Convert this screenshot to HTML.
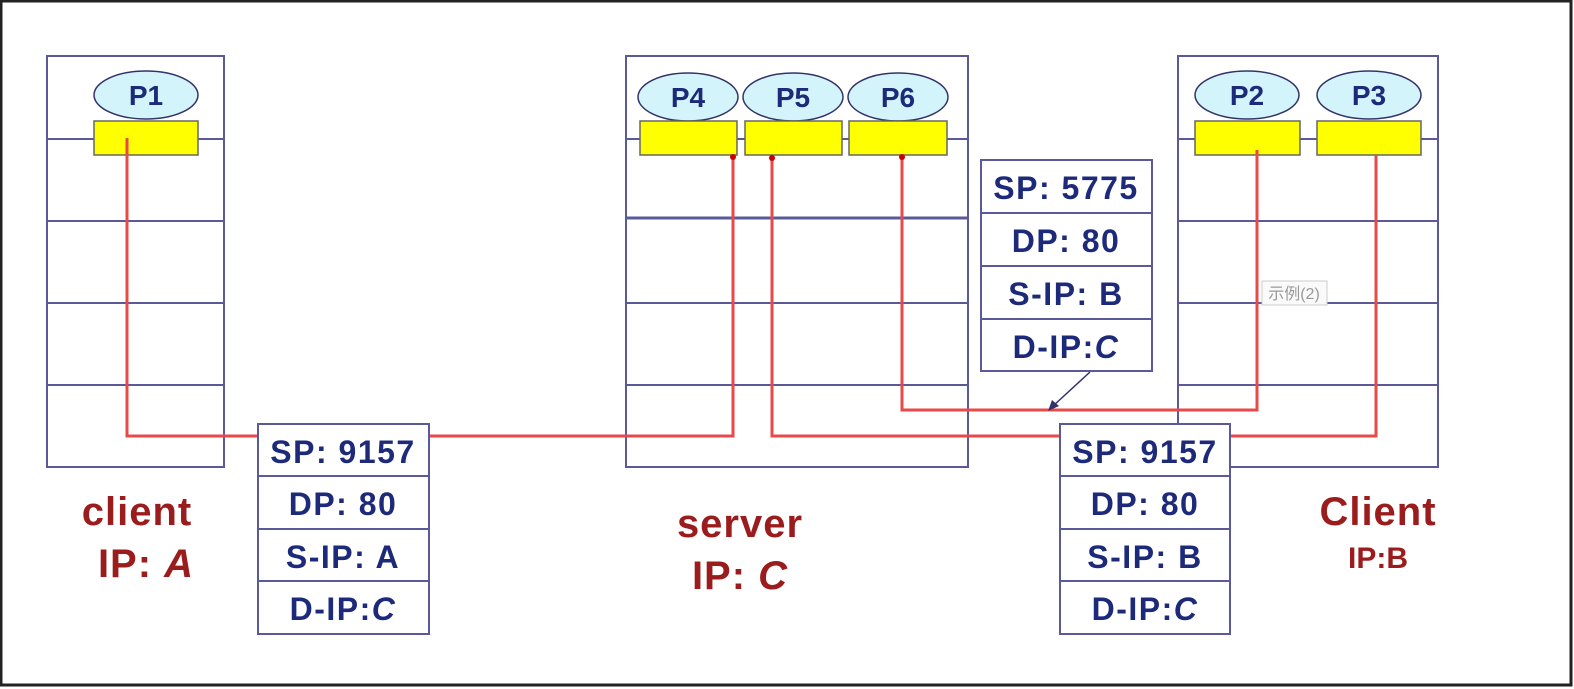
<!DOCTYPE html>
<html><head><meta charset="utf-8"><style>
html,body{margin:0;padding:0;background:#fff;}
svg{display:block;}
text{font-family:"Liberation Sans","Noto Sans CJK SC",sans-serif;}
</style></head><body>
<svg width="1574" height="689" viewBox="0 0 1574 689" xmlns="http://www.w3.org/2000/svg">
<rect x="0" y="0" width="1574" height="689" fill="#fff"/>
<rect x="1" y="1" width="1570" height="684" fill="none" stroke="#222" stroke-width="3"/>
<g stroke="#5a5a9a" stroke-width="2" fill="none">
<rect x="47" y="56" width="177" height="411"/>
<line x1="47" y1="139" x2="224" y2="139"/><line x1="47" y1="221" x2="224" y2="221"/>
<line x1="47" y1="303" x2="224" y2="303"/><line x1="47" y1="385" x2="224" y2="385"/>
<rect x="626" y="56" width="342" height="411"/>
<line x1="626" y1="139" x2="968" y2="139"/><line x1="626" y1="218" x2="968" y2="218" stroke-width="3"/>
<line x1="626" y1="303" x2="968" y2="303"/><line x1="626" y1="385" x2="968" y2="385"/>
<rect x="1178" y="56" width="260" height="411"/>
<line x1="1178" y1="139" x2="1438" y2="139"/><line x1="1178" y1="221" x2="1438" y2="221"/>
<line x1="1178" y1="303" x2="1438" y2="303"/><line x1="1178" y1="385" x2="1438" y2="385"/>
</g>
<g stroke="#33336a" stroke-width="1.5" fill="#d4f4fb">
<ellipse cx="146" cy="95" rx="52" ry="24"/>
<ellipse cx="688" cy="97" rx="50" ry="24"/><ellipse cx="793" cy="97" rx="50" ry="24"/><ellipse cx="898" cy="97" rx="50" ry="24"/>
<ellipse cx="1247" cy="95" rx="52" ry="24"/><ellipse cx="1369" cy="95" rx="52" ry="24"/>
</g>
<g font-size="28" font-weight="bold" fill="#1d2a7a" text-anchor="middle">
<text x="146" y="105">P1</text><text x="688" y="107">P4</text><text x="793" y="107">P5</text><text x="898" y="107">P6</text>
<text x="1247" y="105">P2</text><text x="1369" y="105">P3</text>
</g>
<g stroke="#666" stroke-width="1.5" fill="#ffff00">
<rect x="94" y="121" width="104" height="34"/>
<rect x="640" y="121" width="97" height="34"/><rect x="745" y="121" width="97" height="34"/><rect x="849" y="121" width="98" height="34"/>
<rect x="1195" y="121" width="105" height="34"/><rect x="1317" y="121" width="104" height="34"/>
</g>
<g stroke="#e84a4a" stroke-width="3" fill="none">
<polyline points="127,138 127,436 733,436 733,155"/>
<polyline points="772,158 772,436 1376,436 1376,155"/>
<polyline points="902,155 902,410 1257,410 1257,150"/>
</g>
<circle cx="733" cy="157" r="3" fill="#c00"/><circle cx="772" cy="158" r="3" fill="#c00"/><circle cx="902" cy="157" r="3" fill="#c00"/>
<line x1="1090" y1="372" x2="1053" y2="406" stroke="#33336a" stroke-width="1.5"/>
<polygon points="1048,411 1052,400 1059,406" fill="#33336a"/>
<g stroke="#5a5a9a" stroke-width="2" fill="#fff">
<rect x="258" y="424" width="171" height="210"/>
<line x1="258" y1="476" x2="429" y2="476"/><line x1="258" y1="529" x2="429" y2="529"/><line x1="258" y1="581" x2="429" y2="581"/>
<rect x="1060" y="424" width="170" height="210"/>
<line x1="1060" y1="476" x2="1230" y2="476"/><line x1="1060" y1="529" x2="1230" y2="529"/><line x1="1060" y1="581" x2="1230" y2="581"/>
<rect x="981" y="160" width="171" height="211"/>
<line x1="981" y1="213" x2="1152" y2="213"/><line x1="981" y1="266" x2="1152" y2="266"/><line x1="981" y1="319" x2="1152" y2="319"/>
</g>
<g font-size="32" font-weight="bold" fill="#1d2a7a" text-anchor="middle" letter-spacing="1.5">
<text x="343" y="463">SP: 9157</text><text x="343" y="515">DP: 80</text><text x="343" y="568">S-IP: A</text><text x="343" y="620">D-IP:<tspan font-style="italic">C</tspan></text>
<text x="1145" y="463">SP: 9157</text><text x="1145" y="515">DP: 80</text><text x="1145" y="568">S-IP: B</text><text x="1145" y="620">D-IP:<tspan font-style="italic">C</tspan></text>
<text x="1066" y="199">SP: 5775</text><text x="1066" y="252">DP: 80</text><text x="1066" y="305">S-IP: B</text><text x="1066" y="358">D-IP:<tspan font-style="italic">C</tspan></text>
</g>
<g font-size="40" font-weight="bold" fill="#9b1c1c" text-anchor="middle" letter-spacing="1">
<text x="137" y="525">client</text><text x="146" y="577">IP: <tspan font-style="italic">A</tspan></text>
<text x="740" y="537">server</text><text x="740" y="589">IP: <tspan font-style="italic">C</tspan></text>
<text x="1378" y="525">Client</text>
</g>
<text x="1378" y="568" font-size="30" font-weight="bold" fill="#9b1c1c" text-anchor="middle">IP:B</text>
<rect x="1262" y="281" width="65" height="24" fill="#fafafa" stroke="#ccc"/>
<text x="1294" y="299" font-size="16" fill="#999" text-anchor="middle">示例(2)</text>
</svg>
</body></html>
